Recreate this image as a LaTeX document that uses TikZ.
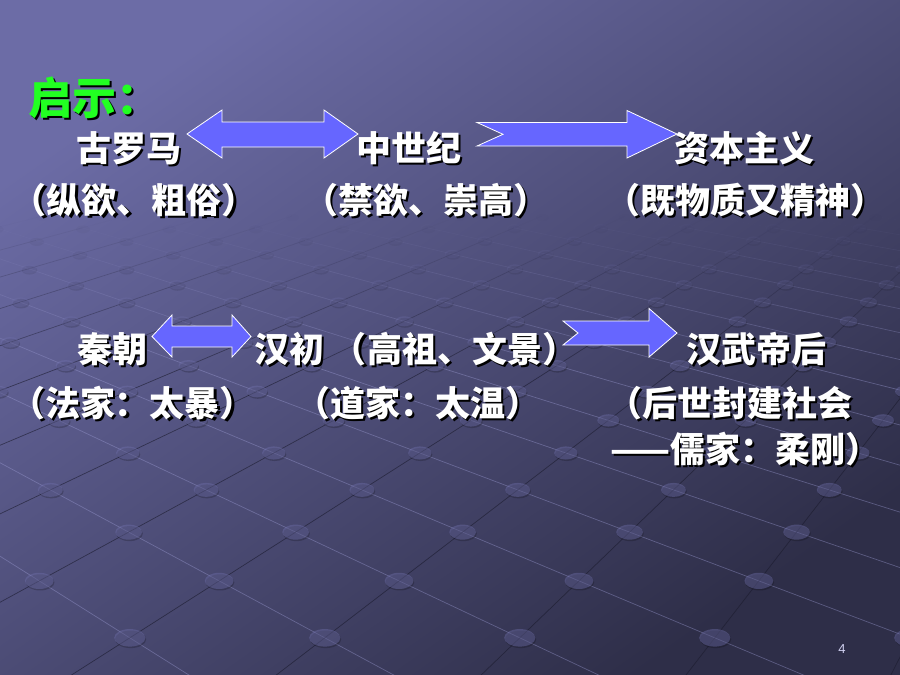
\documentclass[tikz,border=0pt]{standalone}
\usepackage{fontspec}
\newfontfamily\cjk{Noto Sans CJK SC}
\newfontfamily\numfont{Liberation Sans}
\definecolor{bgA}{HTML}{6C6CA6}
\definecolor{bgB}{HTML}{50507F}
\definecolor{bgC}{HTML}{2E2E48}
\definecolor{arrowfill}{HTML}{6666FF}
\definecolor{titlegreen}{HTML}{22FF22}
\definecolor{dotc}{HTML}{7070AC}
\definecolor{darkln}{HTML}{1A1A2C}
\definecolor{lightln}{HTML}{A0A0D8}
\definecolor{pagenum}{HTML}{D0D0F0}
\tikzset{
  txt/.style={anchor=base west, inner sep=0pt, outer sep=0pt, text=white,
    font=\cjk\bfseries\fontsize{35}{40}\selectfont},
  ttl/.style={txt, text=titlegreen, font=\cjk\bfseries\fontsize{44}{50}\selectfont},
  blockarrow/.style={fill=arrowfill, draw=white, line width=0.8pt, line join=miter},
}
\newcommand\shtxt[5]{%
  \node[#4, text=black] (#1s) at (#2+2.5,#3+2.5) {#5};
  \node[#4] (#1) at (#2,#3) {#5};
}
\begin{document}
\begin{tikzpicture}[x=1pt,y=-1pt]
\useasboundingbox (0,0) rectangle (900,675);
\shade[top color=bgA, middle color=bgB, bottom color=bgC, shading angle=35] (0,0) rectangle (900,675);
% perspective grid
\begin{scope}
\clip (0,0) rectangle (900,675);
\foreach \w in {-12,...,4}{
  \pgfmathsetmacro{\D}{1000/(1.815-0.114*\w)}
  \pgfmathsetmacro{\Dn}{1000/(1.815-0.114*(\w+1))}
  \pgfmathsetmacro{\Y}{\D-98}
  \pgfmathsetmacro{\Yn}{\Dn-98}
  \pgfmathsetmacro{\op}{max(0,min(1,(\Y-212)/150))}
  \pgfmathsetmacro{\opl}{0.4*\op}
  \pgfmathsetmacro{\opdk}{0.6*\op}
  \pgfmathsetmacro{\opd}{0.42*\op}
  \pgfmathsetmacro{\ops}{0.2*\op}
  \pgfmathsetmacro{\s}{0.265*\D}
  \pgfmathsetmacro{\sn}{0.265*\Dn}
  \pgfmathsetmacro{\rx}{0.08*\s}
  \pgfmathsetmacro{\ry}{0.045*\s}
  \foreach \k in {-8,...,16}{
    \pgfmathsetmacro{\c}{0.04+0.5*\w+\k}
    \pgfmathsetmacro{\x}{122+\s*\c}
    \pgfmathsetmacro{\xl}{122+\sn*(\c+0.5)}
    \pgfmathsetmacro{\xd}{122+\sn*(\c-0.5)}
    \draw[lightln, line width=0.7pt, opacity=\opl] (\x,\Y) -- (\xl,\Yn);
    \draw[darkln, line width=0.7pt, opacity=\opdk] (\x,\Y) -- (\xd,\Yn);
    \fill[black, opacity=\ops] (\x+0.8,\Y+1.5) ellipse [x radius=\rx, y radius=\ry];
    \fill[dotc, opacity=\opd] (\x,\Y) ellipse [x radius=\rx, y radius=\ry];
  }
}
\end{scope}
% block arrows
\draw[blockarrow] (187,134) -- (222,110) -- (222,122) -- (324,122) -- (324,110) -- (358,134)
  -- (324,158) -- (324,147) -- (222,147) -- (222,158) -- cycle;
\draw[blockarrow] (477,122.5) -- (627,122.5) -- (627,110.5) -- (677,134) -- (627,158)
  -- (627,146) -- (477,146) -- (503,134.3) -- cycle;
\draw[blockarrow] (152,336.5) -- (172,315) -- (172,326) -- (232,326) -- (232,315) -- (251,336.5)
  -- (232,357) -- (232,347) -- (172,347) -- (172,357) -- cycle;
\draw[blockarrow] (563,321) -- (649,321) -- (649,308.5) -- (677,333) -- (649,357)
  -- (649,345) -- (563,345) -- (578,333) -- cycle;
% texts
\shtxt{title}{28}{114}{ttl}{启示：}
\shtxt{gulm}{76}{161}{txt}{古罗马}
\shtxt{zsj}{356}{161}{txt}{中世纪}
\shtxt{zbzy}{674}{161}{txt}{资本主义}
\shtxt{zy}{12}{213}{txt}{（纵欲、粗俗）}
\shtxt{jy}{303}{213}{txt}{（禁欲、崇高）}
\shtxt{jw}{605}{213}{txt}{（既物质又精神）}
\shtxt{qc}{77}{362}{txt}{秦朝}
\shtxt{hc}{254}{362}{txt}{汉初 （高祖、文景）}
\shtxt{hwd}{686}{362}{txt}{汉武帝后}
\shtxt{fj}{10}{416}{txt}{（法家：太暴）}
\shtxt{dj}{295}{416}{txt}{（道家：太温）}
\shtxt{hs}{607}{416}{txt}{（后世封建社会}
\shtxt{rj}{610}{462}{txt}{——儒家：柔刚）}
\node[text=pagenum, font=\numfont\fontsize{13}{15}\selectfont, inner sep=0pt] (pn) at (842,649) {4};
\end{tikzpicture}
\end{document}
